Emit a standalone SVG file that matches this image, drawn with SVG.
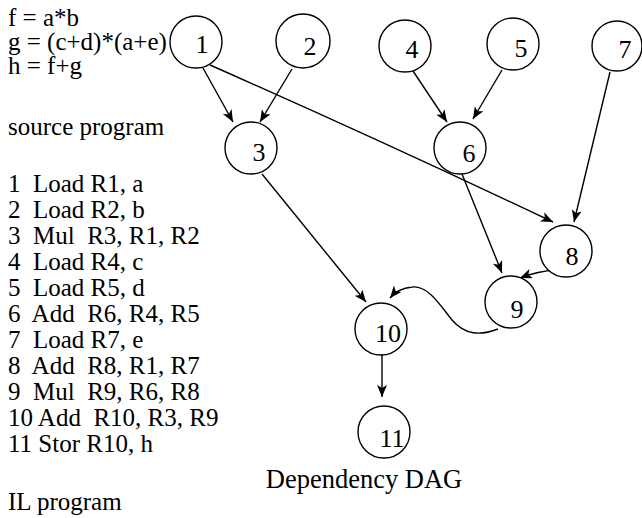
<svg xmlns="http://www.w3.org/2000/svg" width="642" height="518" viewBox="0 0 642 518" font-family="'Liberation Serif', 'Times New Roman', Times, 'DejaVu Serif', serif">
<style>
  text { font-family: "Liberation Serif", "Times New Roman", Times, "DejaVu Serif", serif; fill: #000; }
  .src { font-size: 25px; }
  .lbl { font-size: 26px; text-anchor: middle; }
  .cap { font-size: 26.5px; text-anchor: middle; }
  circle { fill: #fff; stroke: #000; stroke-width: 1.4; }
  .edge { fill: none; stroke: #000; stroke-width: 1.4; marker-end: url(#arr); }
</style>
<defs>
  <marker id="arr" markerUnits="userSpaceOnUse" markerWidth="14" markerHeight="12" refX="12" refY="5" orient="auto">
    <path d="M0,0 L12,5 L0,10 L3,5 z" fill="#000"/>
  </marker>
</defs>
<rect width="642" height="518" fill="#fff"/>
<g id="source-program">
  <text class="src" x="8" y="26">f = a*b</text>
  <text class="src" x="8" y="50">g = (c+d)*(a+e)</text>
  <text class="src" x="8" y="74">h = f+g</text>
  <text class="src" x="8" y="135">source program</text>
</g>
<g id="il-program">
  <text class="src" x="8" y="192" xml:space="preserve">1  Load R1, a</text>
  <text class="src" x="8" y="218" xml:space="preserve">2  Load R2, b</text>
  <text class="src" x="8" y="244" xml:space="preserve">3  Mul  R3, R1, R2</text>
  <text class="src" x="8" y="270" xml:space="preserve">4  Load R4, c</text>
  <text class="src" x="8" y="296" xml:space="preserve">5  Load R5, d</text>
  <text class="src" x="8" y="322" xml:space="preserve">6  Add  R6, R4, R5</text>
  <text class="src" x="8" y="348" xml:space="preserve">7  Load R7, e</text>
  <text class="src" x="8" y="374" xml:space="preserve">8  Add  R8, R1, R7</text>
  <text class="src" x="8" y="400" xml:space="preserve">9  Mul  R9, R6, R8</text>
  <text class="src" x="8" y="426" xml:space="preserve">10 Add  R10, R3, R9</text>
  <text class="src" x="8" y="452" xml:space="preserve">11 Stor R10, h</text>
  <text class="src" x="8" y="510">IL program</text>
</g>
<g id="connectors">
  <path class="edge" d="M203,68 L233,122"/>
  <path class="edge" d="M292,69 L260,122"/>
  <path class="edge" d="M210,65 Q380,140 553,222"/>
  <path class="edge" d="M413,71 L447,122"/>
  <path class="edge" d="M502,70 L473,119"/>
  <path class="edge" d="M610,72 L574,222"/>
  <path class="edge" d="M462,174 L502,273"/>
  <path class="edge" d="M556,270 Q538,271 520,278"/>
  <path class="edge" d="M262,174 L366,302"/>
  <path class="edge" d="M498,329 C480,336 465,335 452,320 C440,305 428,285 412,287 C402,288 395,292 390,298"/>
  <path class="edge" d="M382,355 L382,397"/>
</g>
<g id="node-1"><circle cx="196" cy="42" r="26"/><text class="lbl" x="202" y="53">1</text></g>
<g id="node-2"><circle cx="303" cy="41" r="27"/><text class="lbl" x="310" y="55">2</text></g>
<g id="node-4"><circle cx="405" cy="46" r="26"/><text class="lbl" x="412" y="58">4</text></g>
<g id="node-5"><circle cx="513" cy="44" r="26"/><text class="lbl" x="521" y="57">5</text></g>
<g id="node-7"><circle cx="617" cy="46" r="25"/><text class="lbl" x="625" y="58">7</text></g>
<g id="node-3"><circle cx="251" cy="148" r="26"/><text class="lbl" x="259" y="161">3</text></g>
<g id="node-6"><circle cx="460" cy="148" r="26"/><text class="lbl" x="469" y="162">6</text></g>
<g id="node-8"><circle cx="566" cy="251" r="26"/><text class="lbl" x="572" y="265">8</text></g>
<g id="node-9"><circle cx="511" cy="302" r="26"/><text class="lbl" x="517" y="318">9</text></g>
<g id="node-10"><circle cx="381" cy="329" r="26"/><text class="lbl" x="388" y="342">10</text></g>
<g id="node-11"><circle cx="384" cy="432" r="26"/><text class="lbl" x="392" y="447">11</text></g>
<text class="cap" x="364" y="488">Dependency DAG</text>
</svg>
